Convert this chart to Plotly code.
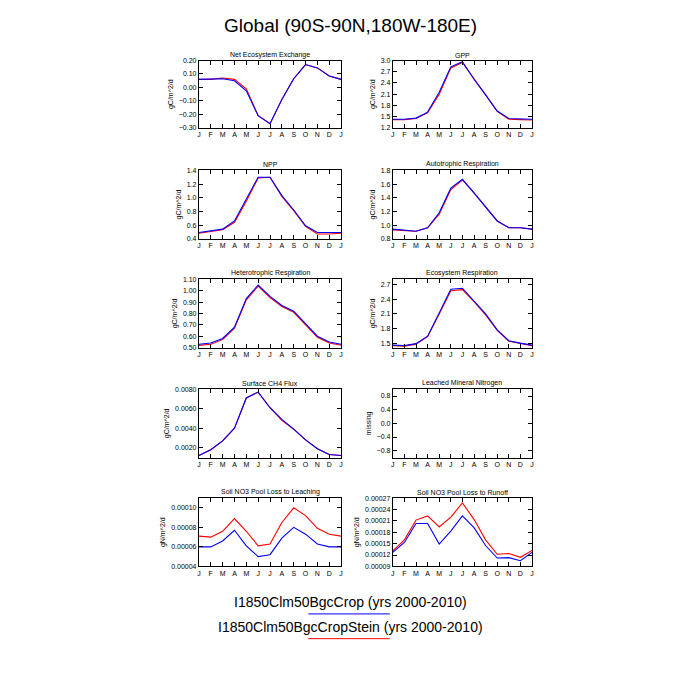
import plotly.graph_objects as go

months = ["J", "F", "M", "A", "M", "J", "J", "A", "S", "O", "N", "D", "J"]
xpos = list(range(13))

titles = ["Net Ecosystem Exchange", "GPP", "NPP", "Autotrophic Respiration",
          "Heterotrophic Respiration", "Ecosystem Respiration", "Surface CH4 Flux",
          "Leached Mineral Nitrogen", "Soil NO3 Pool Loss to Leaching", "Soil NO3 Pool Loss to Runoff"]
units = ["gC/m^2/d"] * 7 + ["missing", "gN/m^2/d", "gN/m^2/d"]

crop = [
    [.06, .06, .065, .05, -.025, -.21, -.27, -.09, .065, .17, .145, .085, .06],
    [1.43, 1.43, 1.46, 1.62, 2.15, 2.83, 2.97, 2.5, 2.08, 1.65, 1.45, 1.44, 1.43],
    [.49, .51, .54, .66, .97, 1.30, 1.30, 1.03, .82, .59, .49, .49, .49],
    [.94, .92, .91, .96, 1.18, 1.54, 1.67, 1.47, 1.26, 1.06, .96, .96, .94],
    [.53, .54, .58, .68, .93, 1.05, .95, .87, .82, .71, .60, .55, .53],
    [1.47, 1.46, 1.50, 1.65, 2.12, 2.60, 2.62, 2.36, 2.10, 1.78, 1.56, 1.51, 1.47],
    [.0012, .0018, .0027, .0040, .0071, .0077, .0061, .0049, .0039, .0028, .0019, .0013, .0012],
    None,
    [6.0e-5, 6.0e-5, 6.6e-5, 7.7e-5, 6.1e-5, 5.0e-5, 5.2e-5, 6.9e-5, 8.0e-5, 7.3e-5, 6.3e-5, 6.0e-5, 6.0e-5],
    [1.27e-4, 1.53e-4, 2.03e-4, 2.03e-4, 1.49e-4, 1.83e-4, 2.23e-4, 1.92e-4, 1.45e-4, 1.12e-4, 1.13e-4, 1.05e-4, 1.27e-4],
]
stein = [
    [.06, .06, .07, .06, -.01, -.21, -.27, -.09, .065, .17, .145, .085, .06],
    [1.42, 1.42, 1.45, 1.60, 2.10, 2.80, 2.95, 2.5, 2.08, 1.64, 1.43, 1.42, 1.41],
    [.48, .50, .53, .64, .95, 1.29, 1.30, 1.02, .81, .58, .47, .47, .48],
    [.93, .92, .91, .96, 1.16, 1.52, 1.66, 1.47, 1.26, 1.06, .96, .96, .94],
    [.52, .53, .57, .67, .92, 1.04, .94, .86, .81, .70, .59, .54, .52],
    [1.46, 1.45, 1.49, 1.64, 2.10, 2.57, 2.59, 2.35, 2.08, 1.77, 1.55, 1.51, 1.46],
    [.0012, .0018, .0027, .0040, .0071, .0077, .0061, .0048, .0039, .0028, .0019, .0013, .0012],
    None,
    [7.1e-5, 7.0e-5, 7.6e-5, 8.9e-5, 7.6e-5, 6.1e-5, 6.3e-5, 8.5e-5, 10.0e-5, 9.2e-5, 7.9e-5, 7.3e-5, 7.1e-5],
    [1.31e-4, 1.60e-4, 2.12e-4, 2.23e-4, 1.94e-4, 2.20e-4, 2.57e-4, 2.14e-4, 1.60e-4, 1.22e-4, 1.24e-4, 1.14e-4, 1.32e-4],
]

# axis range, tick start, tick step, tick format
yaxes = [
    ([-0.3, 0.2], -0.3, 0.1, ".2f"),
    ([1.2, 3.0], 1.2, 0.3, ".1f"),
    ([0.4, 1.4], 0.4, 0.2, ".1f"),
    ([0.8, 1.8], 0.8, 0.2, ".1f"),
    ([0.5, 1.1], 0.5, 0.1, ".2f"),
    ([1.42, 2.8], 1.5, 0.3, ".1f"),
    ([0.001, 0.008], 0.002, 0.002, ".4f"),
    ([-1, 1], -0.8, 0.4, ".1f"),
    ([4e-5, 1.1e-4], 4e-5, 2e-5, ".5f"),
    ([9e-5, 2.7e-4], 9e-5, 3e-5, ".5f"),
]

OFF = 8  # page body margin in px


def px(x):
    return (x - OFF) / 700


def py(y):
    return 1 - (y - OFF) / 700


xdom = [[px(198), px(341)], [px(393), px(533)]]
rows = [(57, 125), (168, 237), (278, 347), (389, 458), (499, 568)]
ydom = [[py(b), py(t)] for t, b in rows]

font = "Liberation Sans"
black = "black"
fig = go.Figure()
ann = []
for i in range(10):
    r, c = divmod(i, 2)
    n = i + 1
    xa = "x" if n == 1 else "x%d" % n
    ya = "y" if n == 1 else "y%d" % n
    if crop[i] is not None:
        fig.add_trace(go.Scatter(x=xpos, y=stein[i], mode="lines", line=dict(color="red", width=1.1),
                                 xaxis=xa, yaxis=ya, showlegend=False))
        fig.add_trace(go.Scatter(x=xpos, y=crop[i], mode="lines", line=dict(color="blue", width=1.1),
                                 xaxis=xa, yaxis=ya, showlegend=False))
    else:
        fig.add_trace(go.Scatter(x=[None], y=[None], xaxis=xa, yaxis=ya, showlegend=False))
    rng, t0, dt, fmt = yaxes[i]
    fig.layout["xaxis" if n == 1 else "xaxis%d" % n] = dict(
        domain=xdom[c], range=[0, 12], tickvals=xpos, ticktext=months, anchor=ya,
        showgrid=False, zeroline=False, showline=True, linecolor=black, mirror="ticks",
        ticks="inside", ticklen=4, tickcolor=black, tickfont=dict(size=7, family=font, color=black))
    fig.layout["yaxis" if n == 1 else "yaxis%d" % n] = dict(
        domain=ydom[r], range=rng, tick0=t0, dtick=dt, tickformat=fmt, anchor=xa,
        showgrid=False, zeroline=False, showline=True, linecolor=black, mirror="ticks",
        ticks="inside", ticklen=4, tickcolor=black, tickfont=dict(size=7, family=font, color=black),
        title=dict(text=units[i], font=dict(size=7, family=font, color=black), standoff=4))
    ann.append(dict(text=titles[i], x=sum(xdom[c]) / 2, y=ydom[r][1], xref="paper", yref="paper",
                    xanchor="center", yanchor="bottom", showarrow=False,
                    font=dict(size=7, family=font, color=black)))

ann.append(dict(text="Global (90S-90N,180W-180E)", x=0.5 - OFF / 700, y=py(22), xref="paper", yref="paper",
                yanchor="middle", showarrow=False, font=dict(size=19, family=font, color=black)))
ann.append(dict(text="I1850Clm50BgcCrop (yrs 2000-2010)", x=0.5 - OFF / 700, y=py(604), xref="paper",
                yref="paper", yanchor="middle", showarrow=False, font=dict(size=14, family=font, color=black)))
ann.append(dict(text="I1850Clm50BgcCropStein (yrs 2000-2010)", x=0.5 - OFF / 700, y=py(629), xref="paper",
                yref="paper", yanchor="middle", showarrow=False, font=dict(size=14, family=font, color=black)))

shapes = [
    dict(type="line", xref="paper", yref="paper", x0=px(308), x1=px(390), y0=py(616), y1=py(616),
         line=dict(color="blue", width=1)),
    dict(type="line", xref="paper", yref="paper", x0=px(308), x1=px(390), y0=py(641), y1=py(641),
         line=dict(color="red", width=1)),
]

fig.update_layout(width=700, height=700, margin=dict(l=0, r=0, t=0, b=0),
                  plot_bgcolor="white", paper_bgcolor="white",
                  annotations=ann, shapes=shapes, font=dict(family=font, color=black))
fig.write_html("out.html")
